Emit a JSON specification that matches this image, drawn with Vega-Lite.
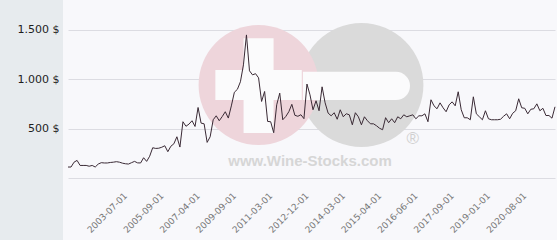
{
  "$schema": "https://vega.github.io/schema/vega-lite/v6.json",
  "padding": 0,
  "background": "#f8f8fb",
  "spacing": 3,
  "align": "each",
  "config": {"view": {"stroke": null}},
  "datasets": {
    "prices": [
      {"d":"2000-11-01","p":111},{"d":"2001-01-01","p":111},{"d":"2001-03-01","p":160},{"d":"2001-05-01","p":178},
      {"d":"2001-07-01","p":127},{"d":"2001-09-01","p":127},{"d":"2001-11-01","p":127},{"d":"2002-01-01","p":119},
      {"d":"2002-03-01","p":127},{"d":"2002-05-01","p":111},{"d":"2002-06-01","p":141},{"d":"2002-08-01","p":155},
      {"d":"2002-09-01","p":152},{"d":"2002-11-01","p":152},{"d":"2002-12-01","p":157},{"d":"2003-02-01","p":160},
      {"d":"2003-03-01","p":165},{"d":"2003-05-01","p":160},{"d":"2003-07-01","p":150},{"d":"2003-09-01","p":144},
      {"d":"2003-11-01","p":141},{"d":"2004-01-01","p":155},{"d":"2004-03-01","p":168},{"d":"2004-05-01","p":153},
      {"d":"2004-07-01","p":152},{"d":"2004-09-01","p":205},{"d":"2004-11-01","p":168},{"d":"2005-01-01","p":220},
      {"d":"2005-04-01","p":306},{"d":"2005-07-01","p":299},{"d":"2005-09-01","p":301},{"d":"2005-11-01","p":311},
      {"d":"2006-01-01","p":326},{"d":"2006-03-01","p":266},{"d":"2006-05-01","p":321},{"d":"2006-06-01","p":346},
      {"d":"2006-08-01","p":417},{"d":"2006-09-01","p":313},{"d":"2006-10-01","p":569},{"d":"2006-12-01","p":523},
      {"d":"2007-01-01","p":545},{"d":"2007-02-01","p":579},{"d":"2007-04-01","p":521},{"d":"2007-06-01","p":713},
      {"d":"2007-09-01","p":555},{"d":"2007-11-01","p":548},{"d":"2008-01-01","p":360},{"d":"2008-04-01","p":417},
      {"d":"2008-06-01","p":589},{"d":"2008-09-01","p":629},{"d":"2008-11-01","p":579},{"d":"2009-01-01","p":622},
      {"d":"2009-04-01","p":670},{"d":"2009-06-01","p":606},{"d":"2009-09-01","p":729},{"d":"2009-11-01","p":867},
      {"d":"2010-01-01","p":897},{"d":"2010-02-01","p":973},{"d":"2010-04-01","p":1144},{"d":"2010-05-01","p":1447},
      {"d":"2010-07-01","p":1084},{"d":"2010-08-01","p":1043},{"d":"2010-10-01","p":1055},{"d":"2010-11-01","p":1013},
      {"d":"2010-12-01","p":774},{"d":"2011-01-01","p":875},{"d":"2011-03-01","p":572},{"d":"2011-05-01","p":569},
      {"d":"2011-07-01","p":458},{"d":"2011-08-01","p":740},{"d":"2011-10-01","p":858},{"d":"2011-12-01","p":589},
      {"d":"2012-01-01","p":622},{"d":"2012-03-01","p":670},{"d":"2012-05-01","p":745},{"d":"2012-07-01","p":634},
      {"d":"2012-08-01","p":624},{"d":"2012-10-01","p":640},{"d":"2012-12-01","p":600},{"d":"2013-01-01","p":950},
      {"d":"2013-02-01","p":841},{"d":"2013-04-01","p":690},{"d":"2013-05-01","p":781},{"d":"2013-06-01","p":680},
      {"d":"2013-08-01","p":922},{"d":"2013-09-01","p":760},{"d":"2013-10-01","p":656},{"d":"2013-11-01","p":629},
      {"d":"2014-01-01","p":660},{"d":"2014-02-01","p":594},{"d":"2014-03-01","p":690},{"d":"2014-04-01","p":619},
      {"d":"2014-05-01","p":650},{"d":"2014-06-01","p":639},{"d":"2014-07-01","p":538},{"d":"2014-08-01","p":660},
      {"d":"2014-09-01","p":619},{"d":"2014-10-01","p":538},{"d":"2014-11-01","p":619},{"d":"2015-01-01","p":579},
      {"d":"2015-02-01","p":548},{"d":"2015-03-01","p":548},{"d":"2015-04-01","p":528},{"d":"2015-05-01","p":503},
      {"d":"2015-06-01","p":488},{"d":"2015-07-01","p":610},{"d":"2015-09-01","p":559},{"d":"2015-10-01","p":599},
      {"d":"2015-11-01","p":559},{"d":"2015-12-01","p":619},{"d":"2016-01-01","p":599},{"d":"2016-02-01","p":639},
      {"d":"2016-03-01","p":619},{"d":"2016-05-01","p":629},{"d":"2016-06-01","p":639},{"d":"2016-07-01","p":599},
      {"d":"2016-08-01","p":629},{"d":"2016-09-01","p":629},{"d":"2016-11-01","p":649},{"d":"2016-12-01","p":569},
      {"d":"2017-01-01","p":791},{"d":"2017-02-01","p":730},{"d":"2017-03-01","p":700},{"d":"2017-05-01","p":760},
      {"d":"2017-06-01","p":710},{"d":"2017-07-01","p":670},{"d":"2017-09-01","p":740},{"d":"2017-10-01","p":770},
      {"d":"2017-11-01","p":730},{"d":"2017-12-01","p":872},{"d":"2018-02-01","p":690},{"d":"2018-03-01","p":609},
      {"d":"2018-04-01","p":609},{"d":"2018-06-01","p":589},{"d":"2018-07-01","p":821},{"d":"2018-08-01","p":649},
      {"d":"2018-10-01","p":619},{"d":"2018-11-01","p":589},{"d":"2019-01-01","p":680},{"d":"2019-02-01","p":599},
      {"d":"2019-04-01","p":589},{"d":"2019-05-01","p":589},{"d":"2019-07-01","p":589},{"d":"2019-08-01","p":594},
      {"d":"2019-10-01","p":624},{"d":"2019-11-01","p":649},{"d":"2020-01-01","p":599},{"d":"2020-02-01","p":654},
      {"d":"2020-04-01","p":680},{"d":"2020-06-01","p":801},{"d":"2020-08-01","p":710},{"d":"2020-09-01","p":705},
      {"d":"2020-10-01","p":649},{"d":"2020-11-01","p":695},{"d":"2020-12-01","p":700},{"d":"2021-01-01","p":750},
      {"d":"2021-02-01","p":680},{"d":"2021-03-01","p":705},{"d":"2021-04-01","p":632},{"d":"2021-05-01","p":632},
      {"d":"2021-06-01","p":605},{"d":"2021-07-01","p":720}
    ]
  },
  "hconcat": [
    {
      "width": 63,
      "height": 240,
      "view": {"fill": "#e7ebee", "stroke": null},
      "data": {"name": "prices"},
      "mark": {"type": "point", "opacity": 0},
      "encoding": {
        "y": {
          "field": "p", "type": "quantitative",
          "scale": {"domain": [-627, 1800], "nice": false, "zero": false},
          "axis": {
            "title": null, "values": [500, 1000, 1500],
            "labelExpr": "replace(format(datum.value, ',d'), ',', '.') + ' $'",
            "grid": false, "ticks": false, "domain": false,
            "labelPadding": -59, "labelAlign": "right",
            "labelFont": "DejaVu Sans", "labelFontSize": 11, "labelColor": "#1e1e1e"
          }
        }
      }
    },
    {
      "width": 487,
      "height": 178,
      "data": {"name": "prices"},
      "encoding": {
        "x": {
          "field": "d", "type": "ordinal",
          "scale": {"type": "point", "padding": 0},
          "axis": {
            "title": null,
            "values": ["2003-07-01","2005-09-01","2007-04-01","2009-09-01","2011-03-01","2012-12-01","2014-03-01","2015-04-01","2016-06-01","2017-09-01","2019-01-01","2020-08-01"],
            "labelAngle": -45, "ticks": false, "domain": false, "grid": false,
            "labelPadding": 13, "labelFont": "DejaVu Sans", "labelFontSize": 9, "labelColor": "#777777"
          }
        }
      },
      "layer": [
        {
          "transform": [{"filter": "datum.d == '2014-10-01'"}],
          "mark": {"type": "point", "shape": "circle", "filled": true, "size": 15376, "color": "#dadada", "opacity": 1},
          "encoding": {"y": {"datum": 940, "type": "quantitative"}}
        },
        {
          "transform": [{"filter": "datum.d == '2010-11-01'"}],
          "mark": {"type": "point", "shape": "circle", "filled": true, "size": 14400, "color": "#eed5db", "opacity": 1},
          "encoding": {"y": {"datum": 940, "type": "quantitative"}}
        },
        {
          "transform": [{"filter": "datum.d == '2010-11-01'"}],
          "mark": {"type": "point", "shape": "M-0.25,-0.78H0.25V-0.25H0.72V0.25H0.25V0.8H-0.25V0.25H-0.72V-0.25H-0.25Z", "filled": true, "size": 14400, "color": "#fbfbfc", "opacity": 1},
          "encoding": {"y": {"datum": 940, "type": "quantitative"}}
        },
        {
          "transform": [{"filter": "datum.d == '2014-10-01'"}],
          "mark": {"type": "point", "shape": "M-0.975,-0.22H0.575A0.235,0.235 0 0 1 0.575,0.25H-0.975Z", "filled": true, "size": 14400, "color": "#fbfbfc", "opacity": 1},
          "encoding": {"y": {"datum": 940, "type": "quantitative"}}
        },
        {
          "transform": [{"filter": "datum.d == '2013-02-01'"}],
          "mark": {"type": "text", "text": "www.Wine-Stocks.com", "font": "Liberation Sans", "fontWeight": "bold", "fontSize": 15, "color": "#d6d6d6", "align": "center", "baseline": "middle"},
          "encoding": {"y": {"datum": 172, "type": "quantitative"}}
        },
        {
          "transform": [{"filter": "datum.d == '2016-06-01'"}],
          "mark": {"type": "text", "text": "®", "font": "Liberation Sans", "fontSize": 17, "color": "#d0d0d0", "align": "center", "baseline": "middle"},
          "encoding": {"y": {"datum": 391, "type": "quantitative"}}
        },
        {
          "mark": {"type": "line", "color": "#3a2a35", "strokeWidth": 1},
          "encoding": {
            "y": {
              "field": "p", "type": "quantitative",
              "scale": {"domain": [0, 1800], "nice": false, "zero": false},
              "axis": {
                "title": null, "values": [0, 500, 1000, 1500],
                "labels": false, "ticks": false, "domain": false,
                "grid": true, "gridColor": "#dcdce2", "gridWidth": 1
              }
            }
          }
        }
      ]
    }
  ]
}
